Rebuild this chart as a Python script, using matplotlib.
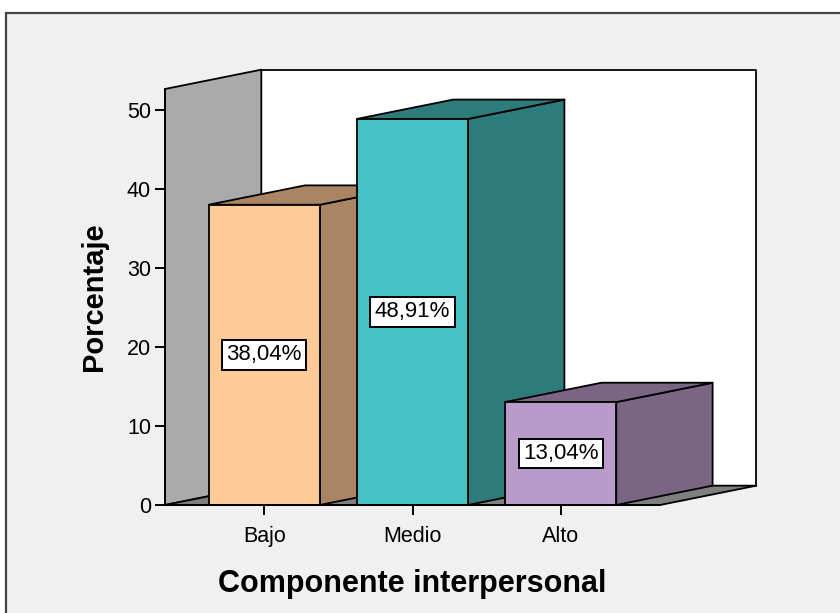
import matplotlib
matplotlib.use("Agg")
import matplotlib.pyplot as plt
from matplotlib.patches import Polygon, Rectangle

plt.rcParams['font.family'] = ['Liberation Sans', 'DejaVu Sans']

categorias = ["Bajo", "Medio", "Alto"]
porcentajes = [38.04, 48.91, 13.04]
etiquetas = ["38,04%", "48,91%", "13,04%"]
y_ticks = [0, 10, 20, 30, 40, 50]

cara_frontal = ["#fecb98", "#48c1c6", "#b89bc9"]
cara_lateral = ["#a98563", "#2e7b7c", "#7a6585"]

# profundidad del efecto 3D (en unidades de datos)
dx, dy = 0.65, 2.45
ancho = 0.75
x0, x1 = -0.67, 2.67
ymax = 52.7

fig = plt.figure(figsize=(8.4, 6.13), dpi=100)
fig.patch.set_facecolor("white")
fig.patches.append(Rectangle((6 / 840, -0.05), 1.1, (613 - 13) / 613 + 0.05,
                             transform=fig.transFigure, facecolor="#f0f0f0",
                             edgecolor="#444444", linewidth=1.6, zorder=-10))

ax = fig.add_axes([165 / 840, (613 - 505) / 613, 495 / 840, (505 - 89) / 613])
ax.set_facecolor("none")
ax.set_xlim(x0, x1)
ax.set_ylim(0, ymax)

def poli(pts, color, z):
    p = Polygon(pts, closed=True, facecolor=color, edgecolor="black",
                linewidth=1.3, clip_on=False, zorder=z, joinstyle="round")
    ax.add_patch(p)

# paredes y suelo
poli([(x0 + dx, dy), (x1 + dx, dy), (x1 + dx, ymax + dy), (x0 + dx, ymax + dy)], "white", 1)
poli([(x0, 0), (x0, ymax), (x0 + dx, ymax + dy), (x0 + dx, dy)], "#aaaaaa", 2)
poli([(x0, 0), (x1, 0), (x1 + dx, dy), (x0 + dx, dy)], "#7f7f7f", 2)

for i, (v, fc, sc) in enumerate(zip(porcentajes, cara_frontal, cara_lateral)):
    a, b = i - ancho / 2, i + ancho / 2
    z = 3 + i
    poli([(b, 0), (b + dx, dy), (b + dx, v + dy), (b, v)], sc, z)
    poli([(a, v), (b, v), (b + dx, v + dy), (a + dx, v + dy)], sc, z)
    poli([(a, 0), (b, 0), (b, v), (a, v)], fc, z)
    ax.text(i, v / 2, etiquetas[i], ha="center", va="center", fontsize=16,
            zorder=10, bbox=dict(boxstyle="square,pad=0.2", facecolor="white",
                                 edgecolor="black", linewidth=1.4))

ax.set_yticks(y_ticks)
ax.set_yticklabels([str(t) for t in y_ticks])
ax.set_xticks(range(len(categorias)))
ax.set_xticklabels(categorias)
ax.tick_params(axis="both", direction="out", length=7, width=1.4, labelsize=15.5,
               color="black", pad=3)
ax.tick_params(axis="x", pad=8)
for s in ["top", "right"]:
    ax.spines[s].set_visible(False)
for s in ["left", "bottom"]:
    ax.spines[s].set_linewidth(1.4)
    ax.spines[s].set_zorder(20)

ax.set_ylabel("Porcentaje", fontsize=21, fontweight="bold", labelpad=14)
ax.set_xlabel("Componente interpersonal", fontsize=22, fontweight="bold", labelpad=16)

fig.savefig("out.png", dpi=100, facecolor=fig.get_facecolor())
